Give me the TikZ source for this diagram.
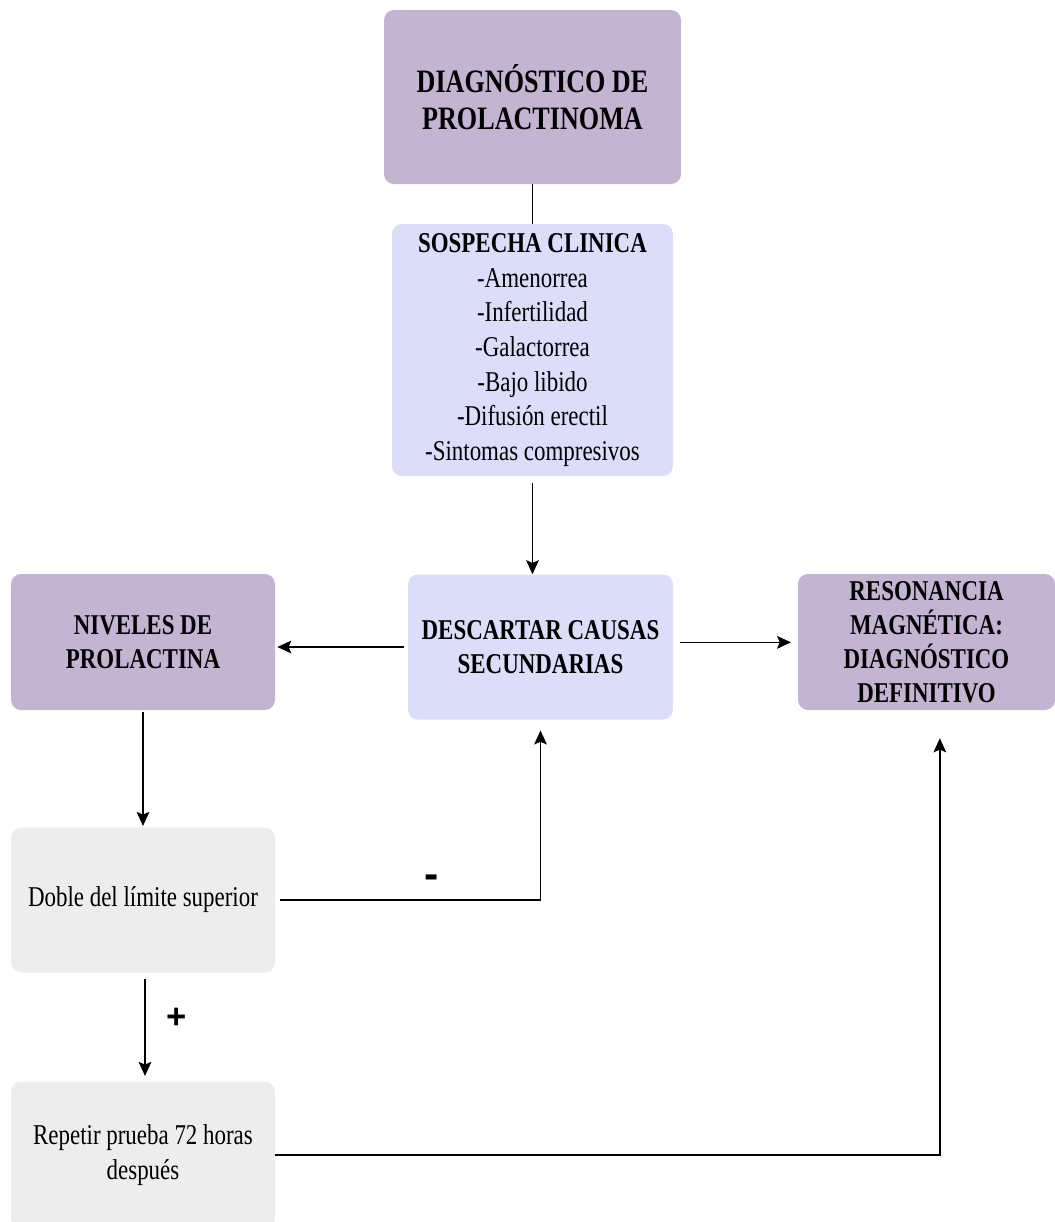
\documentclass[tikz,border=0pt]{standalone}
\usepackage{fontspec}
\setmainfont{Liberation Serif}[FakeStretch=0.8]
\newfontfamily\signfont{Liberation Sans}
\usetikzlibrary{arrows.meta}
\definecolor{lilac}{HTML}{C5B4D1}
\definecolor{lavender}{HTML}{DBDDF9}
\definecolor{paleGrey}{HTML}{EDEDED}
\tikzset{
  box/.style={rounded corners=7.5pt, inner sep=0pt, align=center,
    font=\fontsize{21.5}{26}\selectfont},
  headbox/.style={box, fill=lilac, font=\fontsize{21.5}{25.5}\selectfont\bfseries},
  flow/.style={-{Stealth[length=10.5pt, width=9.5pt, inset=2pt]}, line width=1.2pt},
}
\begin{document}
\begin{tikzpicture}[x=0.75pt, y=-0.75pt]
\useasboundingbox (0,0) rectangle (1055,1222);
% nodes
\node[box, fill=lilac, minimum width=297*0.75pt, minimum height=174*0.75pt,
  font=\fontsize{24.5}{27.75}\selectfont\bfseries] (diag) at (532.5, 97)
  {DIAGNÓSTICO DE\\PROLACTINOMA};
\node[box, fill=lavender, minimum width=281*0.75pt, minimum height=252*0.75pt] (sosp) at (532.5, 350)
  {\textbf{SOSPECHA CLINICA}\\-Amenorrea\\-Infertilidad\\-Galactorrea\\-Bajo libido\\-Difusión erectil\\-Sintomas compresivos};
\node[box, fill=lavender, minimum width=265*0.75pt, minimum height=145*0.75pt,
  font=\fontsize{21.5}{25.5}\selectfont\bfseries] (desc) at (540.5, 647)
  {DESCARTAR CAUSAS\\SECUNDARIAS};
\node[headbox, minimum width=264*0.75pt, minimum height=136*0.75pt] (niv) at (143, 642)
  {NIVELES DE\\PROLACTINA};
\node[headbox, minimum width=257*0.75pt, minimum height=136*0.75pt] (reso) at (926.5, 642)
  {RESONANCIA\\MAGNÉTICA:\\DIAGNÓSTICO\\DEFINITIVO};
\node[box, fill=paleGrey, minimum width=264*0.75pt, minimum height=145*0.75pt] (doble) at (143, 900)
  {Doble del límite superior};
\node[box, fill=paleGrey, minimum width=264*0.75pt, minimum height=147*0.75pt] (rep) at (143, 1155)
  {Repetir prueba 72 horas\\después};
% arrows
\draw[line width=1.2pt] (diag) -- (sosp);
\draw[flow, shorten <=5pt] (sosp) -- (sosp |- desc.north);
\draw[flow, shorten <=3pt, shorten >=1.5pt] (desc.west) -- (desc.west -| niv.east);
\draw[flow, shorten <=5pt, shorten >=5pt] ([yshift=3.5pt]desc.east) -- ([yshift=3.5pt]desc.east -| reso.west);
\draw[flow, shorten <=1pt, shorten >=1pt] (niv) -- (doble);
\draw[flow, shorten <=3.5pt, shorten >=8pt] (doble.east) -| (desc.south);
\draw[flow, shorten <=4.5pt, shorten >=4pt] ([xshift=1.5pt]doble.south) --
  node[right=12pt, pos=0.42, font=\signfont\fontsize{26}{26}\selectfont\bfseries]{+} ([xshift=1.5pt]rep.north);
\draw[flow, shorten >=21pt] (rep.east) -| ([xshift=10pt]reso.south);
\node[font=\signfont\fontsize{32}{32}\selectfont\bfseries] (minus) at (432, 882) {-};
\end{tikzpicture}
\end{document}
